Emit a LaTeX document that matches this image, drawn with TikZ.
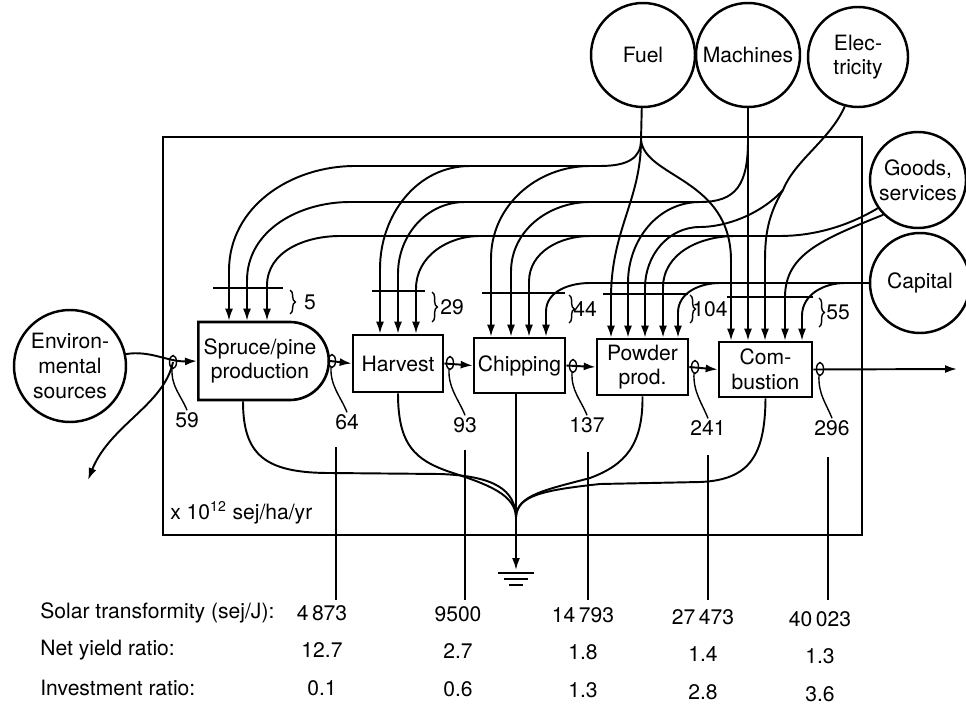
\documentclass[tikz,border=0pt]{standalone}
\usepackage{fontspec}
\setmainfont{TeX Gyre Heros}
\usetikzlibrary{arrows.meta,shapes.misc,calc,decorations.pathreplacing}
\begin{document}
\begin{tikzpicture}[x=0.2mm,y=0.2mm,font=\fontsize{12}{14}\selectfont,
  proc/.style={draw,line width=1.5pt,inner sep=1pt,align=center},
  src/.style={circle,draw,line width=1.4pt,inner sep=0pt,minimum size=20.8mm,align=center},
  flow/.style={line width=1.1pt},
  arr/.style={flow,-{Latex[length=2.4mm,width=1.6mm]}},
  thinln/.style={line width=0.8pt},
  brc/.style={thinln,decorate,decoration={brace,amplitude=3pt}},
  num/.style={inner sep=1pt}]
\useasboundingbox(0,-710)rectangle(966,0);
\node[draw,line width=1.5pt,inner sep=0pt,minimum width=139.8mm,minimum height=79.6mm](sys) at(512.5,-336){};
\node[src,minimum size=22.4mm](env) at(70,-366){Environ-\\mental\\sources};
\node[src](fuel) at(643,-55){Fuel};
\node[src](mach) at(748,-55){Machines};
\node[src,minimum size=20mm](elec) at(858,-57){Elec-\\tricity};
\node[src,minimum size=19.2mm](goods) at(918,-180){Goods,\\services};
\node[src,minimum size=20mm](cap) at(920,-283){Capital};
\node[proc,rounded rectangle,rounded rectangle left arc=none,minimum width=26.8mm,minimum height=15.6mm](sp) at(260,-361){Spruce/pine\\production};
\node[proc,minimum width=18mm,minimum height=11.4mm](hv) at(398,-363.5){Harvest};
\node[proc,minimum width=18.2mm,minimum height=11mm](ch) at(519.5,-365.5){Chipping};
\node[proc,minimum width=18.2mm,minimum height=11.2mm](pw) at(642.5,-367){Powder\\prod.};
\node[proc,minimum width=18.6mm,minimum height=11mm](cb) at(765.5,-369.5){Com-\\bustion};
\coordinate(jf) at(641,-140);
\coordinate(jm) at(748,-140);
\coordinate(je) at(783,-190);
\coordinate(js) at(516,-517);
\coordinate(gnd) at(516,-570);
\coordinate(loss) at(88,-480);
\coordinate(yield) at(957,-369);
\draw[flow](fuel)--(jf);
\draw[flow](jf)..controls(641,-158)and(628,-166)..(600,-166)--(355,-166);
\draw[flow](jm)..controls(748,-185)and(736,-202)..(700,-202)--(350,-202);
\draw[flow](goods.215)..controls(845,-228)and(810,-236)..(780,-236)--(340,-236);
\draw[flow](elec.255)..controls(830,-140)and(795,-160)..(je);
\draw[flow](cap)--(590,-283);
\foreach \s/\b/\dx/\dv in {355/sp/-31/50,470/hv/-18/65,590/ch/-28.5/78}
  \draw[arr](\s,-166)to[out=180,in=90]($(\b.north)+(\dx,\dv)$)--($(\b.north)+(\dx,0)$);
\foreach \s/\b/\dx/\dv in {350/sp/-13/40,465/hv/0/60,590/ch/-8.5/65,700/pw/-14.5/55}
  \draw[arr](\s,-202)to[out=180,in=90]($(\b.north)+(\dx,\dv)$)--($(\b.north)+(\dx,0)$);
\foreach \s/\b/\dx/\dv in {340/sp/7/35,480/hv/18/45,590/ch/9.5/55,735/pw/20.5/50}
  \draw[arr](\s,-236)to[out=180,in=90]($(\b.north)+(\dx,\dv)$)--($(\b.north)+(\dx,0)$);
\foreach \s/\b/\dx/\dv in {590/ch/26.5/25,720/pw/35.5/25,845/cb/36.5/25}
  \draw[arr](\s,-283)to[out=180,in=90]($(\b.north)+(\dx,\dv)$)--($(\b.north)+(\dx,0)$);
\draw[arr](jf)..controls(641,-200)and(611,-230)..($(pw.north)+(-31.5,40)$)--($(pw.north)+(-31.5,0)$);
\draw[arr](jf)..controls(645,-178)and(731,-178)..($(cb.north)+(-34.5,80)$)--($(cb.north)+(-34.5,0)$);
\draw[arr](mach)--($(cb.north)+(-17.5,0)$);
\draw[arr](je)..controls(768,-215)and(765,-235)..($(cb.north)+(-0.5,80)$)--($(cb.north)+(-0.5,0)$);
\draw[arr](je)..controls(760,-215)and(725,-227)..(700,-227)to[out=180,in=90]($(pw.north)+(2.5,50)$)--($(pw.north)+(2.5,0)$);
\draw[arr](goods.225)..controls(820,-240)and(786,-255)..($(cb.north)+(19.5,45)$)--($(cb.north)+(19.5,0)$);
\foreach \a/\b/\y/\bx/\bt/\bb/\v/\lx in {213/283/288/290/290/314/5/310,372/425/291/432/292/322/29/452,482/565/293/569/295/323/44/585,603/688/294/690/295/323/104/710,727/813/297/819/298/327/55/838}{
  \draw[thinln](\a,-\y)--(\b,-\y);
  \draw[brc](\bx,-\bt)--(\bx,-\bb);
  \node[num](s\v) at(\lx,{-(\bt+\bb)/2}){\v};
}
\draw[arr](env.12)..controls(150,-350)and(168,-362)..(sp.west);
\draw[arr](sp.east)--(hv.west);
\draw[arr](hv.east)--(ch.west);
\draw[arr](ch.east)--(pw.west);
\draw[arr](pw.east)--(cb.west);
\draw[arr](cb.east)--(yield);
\foreach \x/\y/\v/\lx/\ly in {173/362/59/187/420,332/361/64/347/422,450/363/93/465/425,573/366/137/587/425,695/367/241/708/428,820/369/296/832/428}{
  \coordinate(t\v) at(\x,-\y);
  \node[num](f\v) at(\lx,-\ly){\v};
  \draw[thinln](t\v)ellipse[x radius=0.7mm,y radius=1.3mm];
  \draw[thinln](\x-1,-\y-6)..controls(\x-2,-\y-25)and(\lx-6,-\ly+25)..(f\v.north);
}
\draw[arr](t59)..controls(164,-405)and(110,-425)..(loss);
\draw[flow]($(sp.south)+(-17,0)$)..controls(243,-455)and(265,-473)..(330,-473)--(440,-474)..controls(495,-476)and(515,-490)..(js);
\draw[flow](hv.south)..controls(398,-445)and(415,-460)..(450,-472)..controls(490,-485)and(515,-495)..(js);
\draw[flow]($(ch.south)+(-3.5,0)$)--(js);
\draw[flow](pw.south)..controls(643,-445)and(625,-465)..(590,-478)..controls(545,-490)and(517,-495)..(js);
\draw[flow](cb.south)..controls(765,-455)and(750,-480)..(700,-482)--(600,-484)..controls(545,-490)and(517,-495)..(js);
\draw[arr](js)--(gnd);
\draw[flow](498,-573)--(534,-573)(504,-579)--(528,-579)(509,-585)--(523,-585);
\node[anchor=west,inner sep=0pt](unit) at(170,-513){x 10\textsuperscript{12} sej/ha/yr};
\foreach \x/\ya in {336/447,465/450,588/452,708/455,828/457}
  \draw[thinln](\x,-\ya)--(\x,-600);
\node[anchor=west,inner sep=0pt](lt) at(40,-613){Solar transformity (sej/J):};
\node[anchor=west,inner sep=0pt](ln) at(40,-650){Net yield ratio:};
\node[anchor=west,inner sep=0pt](li) at(40,-688){Investment ratio:};
\foreach \x/\d/\t/\n/\i [count=\k] in {322/0/4\,873/12.7/0.1,458/1/9500/2.7/0.6,583/2/14\,793/1.8/1.3,703/4/27\,473/1.4/2.8,820/6/40\,023/1.3/3.6}{
  \node[num](tr\k) at(\x,-613-\d){\t};
  \node[num](ny\k) at(\x,-650-\d){\n};
  \node[num](ir\k) at(\x,-688-\d){\i};
}
\end{tikzpicture}
\end{document}
